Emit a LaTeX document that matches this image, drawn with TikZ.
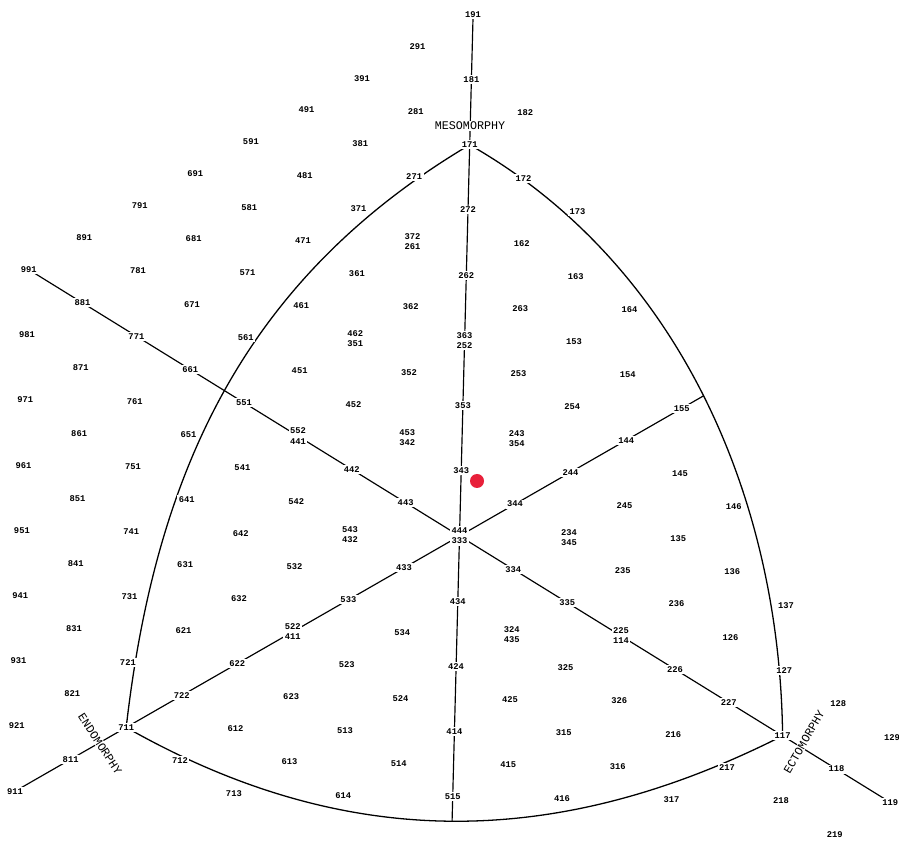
\documentclass[tikz,border=0pt]{standalone}
\usepackage{fontspec}
\newfontfamily\labfont{Liberation Mono}
\usetikzlibrary{backgrounds,intersections}
\definecolor{reddot}{RGB}{232,32,58}
\newcommand\somlab[4]{\node[lab] (n#1) at (#2,#3) {#4};}
\begin{document}
\begin{tikzpicture}[
  lab/.style={font=\labfont\bfseries\fontsize{7.5}{8.6}\selectfont, fill=white, inner sep=1.3pt, align=center},
  axisname/.style={font=\labfont\fontsize{10}{12}\selectfont, fill=white, inner sep=0.6pt},
  chartline/.style={line width=1pt, black},
  chartarc/.style={line width=1.1pt, black}
]
\useasboundingbox (0,0) rectangle (26.97,25.26);
\begin{scope}[shift={(13.785,9.18)}, x={(1.641cm,-0.021cm)}, y={(0.0255cm,0.978cm)}]
\somlab{191}{0}{16}{191}
\somlab{291}{-1}{15}{291}
\somlab{181}{0}{14}{181}
\somlab{391}{-2}{14}{391}
\somlab{182}{1}{13}{182}
\somlab{281}{-1}{13}{281}
\somlab{491}{-3}{13}{491}
\somlab{171}{0}{12}{171}
\somlab{381}{-2}{12}{381}
\somlab{591}{-4}{12}{591}
\somlab{172}{1}{11}{172}
\somlab{271}{-1}{11}{271}
\somlab{481}{-3}{11}{481}
\somlab{691}{-5}{11}{691}
\somlab{173}{2}{10}{173}
\somlab{272}{0}{10}{272}
\somlab{371}{-2}{10}{371}
\somlab{581}{-4}{10}{581}
\somlab{791}{-6}{10}{791}
\somlab{162}{1}{9}{162}
\somlab{372}{-1}{9}{372\\261}
\somlab{471}{-3}{9}{471}
\somlab{681}{-5}{9}{681}
\somlab{891}{-7}{9}{891}
\somlab{163}{2}{8}{163}
\somlab{262}{0}{8}{262}
\somlab{361}{-2}{8}{361}
\somlab{571}{-4}{8}{571}
\somlab{781}{-6}{8}{781}
\somlab{991}{-8}{8}{991}
\somlab{164}{3}{7}{164}
\somlab{263}{1}{7}{263}
\somlab{362}{-1}{7}{362}
\somlab{461}{-3}{7}{461}
\somlab{671}{-5}{7}{671}
\somlab{881}{-7}{7}{881}
\somlab{153}{2}{6}{153}
\somlab{363}{0}{6}{363\\252}
\somlab{462}{-2}{6}{462\\351}
\somlab{561}{-4}{6}{561}
\somlab{771}{-6}{6}{771}
\somlab{981}{-8}{6}{981}
\somlab{154}{3}{5}{154}
\somlab{253}{1}{5}{253}
\somlab{352}{-1}{5}{352}
\somlab{451}{-3}{5}{451}
\somlab{661}{-5}{5}{661}
\somlab{871}{-7}{5}{871}
\somlab{155}{4}{4}{155}
\somlab{254}{2}{4}{254}
\somlab{353}{0}{4}{353}
\somlab{452}{-2}{4}{452}
\somlab{551}{-4}{4}{551}
\somlab{761}{-6}{4}{761}
\somlab{971}{-8}{4}{971}
\somlab{144}{3}{3}{144}
\somlab{243}{1}{3}{243\\354}
\somlab{453}{-1}{3}{453\\342}
\somlab{552}{-3}{3}{552\\441}
\somlab{651}{-5}{3}{651}
\somlab{861}{-7}{3}{861}
\somlab{145}{4}{2}{145}
\somlab{244}{2}{2}{244}
\somlab{343}{0}{2}{343}
\somlab{442}{-2}{2}{442}
\somlab{541}{-4}{2}{541}
\somlab{751}{-6}{2}{751}
\somlab{961}{-8}{2}{961}
\somlab{146}{5}{1}{146}
\somlab{245}{3}{1}{245}
\somlab{344}{1}{1}{344}
\somlab{443}{-1}{1}{443}
\somlab{542}{-3}{1}{542}
\somlab{641}{-5}{1}{641}
\somlab{851}{-7}{1}{851}
\somlab{135}{4}{0}{135}
\somlab{234}{2}{0}{234\\345}
\somlab{444}{0}{0}{444\\333}
\somlab{543}{-2}{0}{543\\432}
\somlab{642}{-4}{0}{642}
\somlab{741}{-6}{0}{741}
\somlab{951}{-8}{0}{951}
\somlab{136}{5}{-1}{136}
\somlab{235}{3}{-1}{235}
\somlab{334}{1}{-1}{334}
\somlab{433}{-1}{-1}{433}
\somlab{532}{-3}{-1}{532}
\somlab{631}{-5}{-1}{631}
\somlab{841}{-7}{-1}{841}
\somlab{137}{6}{-2}{137}
\somlab{236}{4}{-2}{236}
\somlab{335}{2}{-2}{335}
\somlab{434}{0}{-2}{434}
\somlab{533}{-2}{-2}{533}
\somlab{632}{-4}{-2}{632}
\somlab{731}{-6}{-2}{731}
\somlab{941}{-8}{-2}{941}
\somlab{126}{5}{-3}{126}
\somlab{225}{3}{-3}{225\\114}
\somlab{324}{1}{-3}{324\\435}
\somlab{534}{-1}{-3}{534}
\somlab{522}{-3}{-3}{522\\411}
\somlab{621}{-5}{-3}{621}
\somlab{831}{-7}{-3}{831}
\somlab{127}{6}{-4}{127}
\somlab{226}{4}{-4}{226}
\somlab{325}{2}{-4}{325}
\somlab{424}{0}{-4}{424}
\somlab{523}{-2}{-4}{523}
\somlab{622}{-4}{-4}{622}
\somlab{721}{-6}{-4}{721}
\somlab{931}{-8}{-4}{931}
\somlab{128}{7}{-5}{128}
\somlab{227}{5}{-5}{227}
\somlab{326}{3}{-5}{326}
\somlab{425}{1}{-5}{425}
\somlab{524}{-1}{-5}{524}
\somlab{623}{-3}{-5}{623}
\somlab{722}{-5}{-5}{722}
\somlab{821}{-7}{-5}{821}
\somlab{129}{8}{-6}{129}
\somlab{117}{6}{-6}{117}
\somlab{216}{4}{-6}{216}
\somlab{315}{2}{-6}{315}
\somlab{414}{0}{-6}{414}
\somlab{513}{-2}{-6}{513}
\somlab{612}{-4}{-6}{612}
\somlab{711}{-6}{-6}{711}
\somlab{921}{-8}{-6}{921}
\somlab{118}{7}{-7}{118}
\somlab{217}{5}{-7}{217}
\somlab{316}{3}{-7}{316}
\somlab{415}{1}{-7}{415}
\somlab{514}{-1}{-7}{514}
\somlab{613}{-3}{-7}{613}
\somlab{712}{-5}{-7}{712}
\somlab{811}{-7}{-7}{811}
\somlab{119}{8}{-8}{119}
\somlab{218}{6}{-8}{218}
\somlab{317}{4}{-8}{317}
\somlab{416}{2}{-8}{416}
\somlab{515}{0}{-8}{515}
\somlab{614}{-2}{-8}{614}
\somlab{713}{-4}{-8}{713}
\somlab{911}{-8}{-8}{911}
\somlab{219}{7}{-9}{219}
\coordinate (vend) at (0,-11);
\coordinate (d2end) at (6,6);
\end{scope}
\node[axisname] (meso) at (14.1,21.48) {MESOMORPHY};
\node[axisname, rotate=-57] (endo) at (3.0,2.94) {ENDOMORPHY};
\node[axisname, rotate=60] (ecto) at (24.12,3.0) {ECTOMORPHY};
\node[circle, fill=reddot, minimum size=0.42cm, inner sep=0pt] (dot) at (14.31,10.83) {};
\begin{pgfonlayer}{background}
\fill[white] (0,0) rectangle (26.97,25.26);
\draw[chartarc, name path=larc] (n171.center) .. controls (7.281,16.875) and (4.656,11.022) .. (n711.center);
\draw[chartarc, name path=rarc] (n171.center) .. controls (20.334,17.352) and (23.394,10.38) .. (n117.center);
\draw[chartarc, name path=barc] (n711.center) .. controls (10.374,-0.3) and (16.689,-0.246) .. (n117.center);
\path[name path=vax] (n191.center) -- (vend);
\path[name intersections={of=vax and barc, by=vbot}];
\draw[chartline] (n191.center) -- (vbot);
\draw[chartline] (n991.center) -- (n119.center);
\path[name path=diag2] (n911.center) -- (d2end);
\path[name intersections={of=diag2 and rarc, by=tick}];
\draw[chartline] (n911.center) -- (tick);
\end{pgfonlayer}
\end{tikzpicture}
\end{document}
